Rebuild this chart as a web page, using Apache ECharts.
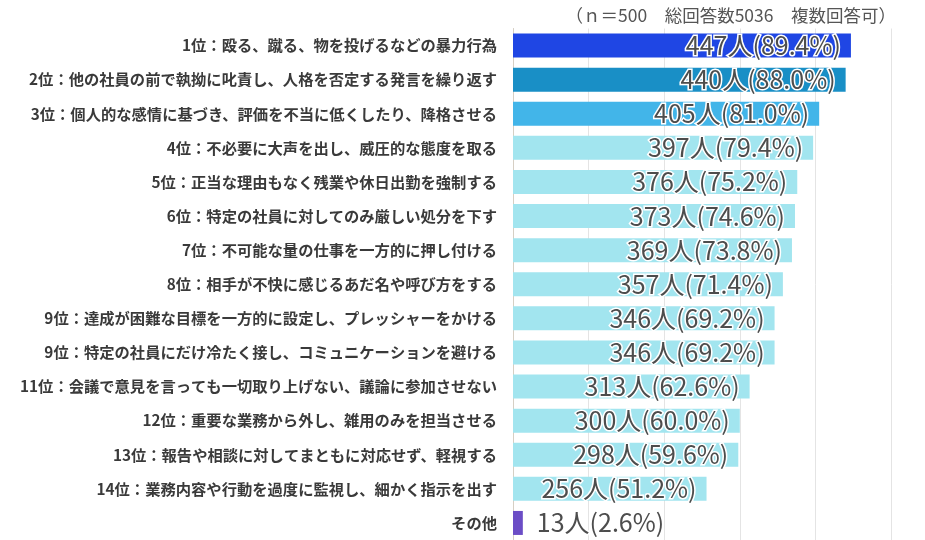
<!DOCTYPE html>
<html><head><meta charset="utf-8">
<script src="https://cdn.jsdelivr.net/npm/echarts@6/dist/echarts.min.js"></script>
<style>html,body{margin:0;padding:0;background:#fff}#c{width:925px;height:540px}</style>
</head><body><div id="c"></div>
<script>
const categories = [
  '1位：殴る、蹴る、物を投げるなどの暴力行為',
  '2位：他の社員の前で執拗に叱責し、人格を否定する発言を繰り返す',
  '3位：個人的な感情に基づき、評価を不当に低くしたり、降格させる',
  '4位：不必要に大声を出し、威圧的な態度を取る',
  '5位：正当な理由もなく残業や休日出勤を強制する',
  '6位：特定の社員に対してのみ厳しい処分を下す',
  '7位：不可能な量の仕事を一方的に押し付ける',
  '8位：相手が不快に感じるあだ名や呼び方をする',
  '9位：達成が困難な目標を一方的に設定し、プレッシャーをかける',
  '9位：特定の社員にだけ冷たく接し、コミュニケーションを避ける',
  '11位：会議で意見を言っても一切取り上げない、議論に参加させない',
  '12位：重要な業務から外し、雑用のみを担当させる',
  '13位：報告や相談に対してまともに対応せず、軽視する',
  '14位：業務内容や行動を過度に監視し、細かく指示を出す',
  'その他'
];
const counts = [447, 440, 405, 397, 376, 373, 369, 357, 346, 346, 313, 300, 298, 256, 13];
const percents = [89.4, 88.0, 81.0, 79.4, 75.2, 74.6, 73.8, 71.4, 69.2, 69.2, 62.6, 60.0, 59.6, 51.2, 2.6];
const colors = ['#1f46e4', '#198fc6', '#42b5e9', '#a2e5ef', '#a2e5ef', '#a2e5ef', '#a2e5ef', '#a2e5ef', '#a2e5ef', '#a2e5ef', '#a2e5ef', '#a2e5ef', '#a2e5ef', '#a2e5ef', '#6b4dc6'];
const subtitle = '（ｎ＝500　総回答数5036　複数回答可）';

const font = "'Noto Sans CJK JP', 'Noto Sans', sans-serif";
const chart = echarts.init(document.getElementById('c'), null, {renderer: 'canvas'});
chart.setOption({
  animation: false,
  backgroundColor: '#fff',
  title: {
    text: subtitle, right: 24, top: 2,
    textStyle: {fontFamily: font, fontSize: 17.5, fontWeight: 'normal', color: '#555'}
  },
  grid: {left: 513, right: 34, top: 28.5, height: 517, containLabel: false},
  xAxis: {
    type: 'value', min: 0, max: 500, interval: 100,
    axisLabel: {show: false}, axisLine: {show: false}, axisTick: {show: false},
    splitLine: {show: true, lineStyle: {color: '#e4e4e4', width: 1}}
  },
  yAxis: {
    type: 'category', inverse: true, data: categories,
    axisTick: {show: false},
    axisLine: {show: true, lineStyle: {color: '#d6cfc4', width: 1}},
    axisLabel: {fontFamily: font, fontSize: 15.3, fontWeight: 'bold', color: '#3a3a3a', margin: 16}
  },
  series: [{
    type: 'bar',
    barWidth: 24,
    data: counts.map((v, i) => ({
      value: v,
      itemStyle: {color: colors[i]},
      label: i === counts.length - 1 ? {position: 'right', distance: 14} : {}
    })),
    label: {
      show: true, position: 'insideRight', distance: 10,
      fontFamily: font, fontSize: 25, color: '#4d4d4d',
      textBorderColor: '#fff', textBorderWidth: 3,
      formatter: p => counts[p.dataIndex] + '人(' + percents[p.dataIndex].toFixed(1) + '%)'
    }
  }]
});
</script></body></html>
